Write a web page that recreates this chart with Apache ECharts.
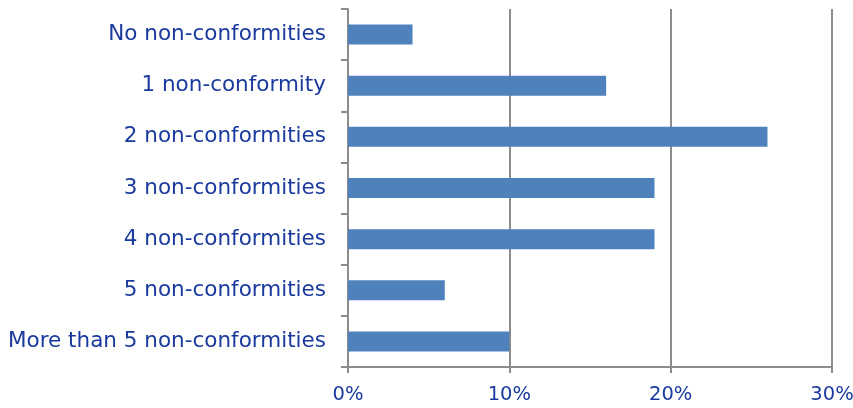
<!DOCTYPE html>
<html><head><meta charset="utf-8">
<script src="https://cdn.jsdelivr.net/npm/echarts@6/dist/echarts.min.js"></script>
<style>html,body{margin:0;padding:0;background:#fff}#c{width:853px;height:408px}</style>
</head><body><div id="c"></div>
<script>
const categories = ["No non-conformities","1 non-conformity","2 non-conformities","3 non-conformities","4 non-conformities","5 non-conformities","More than 5 non-conformities"];
const values = [4, 16, 26, 19, 19, 6, 10];
const xTicks = [0, 10, 20, 30];
const chart = echarts.init(document.getElementById('c'));
const txt = '#1a3a9e', ax = '#8c8c8c';
chart.setOption({
  animation:false,
  grid:{left:348,right:21,top:9,bottom:41,containLabel:false,outerBoundsMode:'none'},
  xAxis:{type:'value',min:0,max:30,interval:10,
    axisLine:{show:true,lineStyle:{color:ax,width:2}},
    axisTick:{show:true,length:6,lineStyle:{color:ax,width:2}},
    splitLine:{show:true,lineStyle:{color:ax,width:2}},
    axisLabel:{formatter:v=>v+'%',color:txt,fontSize:19.5,fontFamily:'DejaVu Sans',margin:18}},
  yAxis:{type:'category',data:categories,inverse:true,
    axisLine:{show:true,lineStyle:{color:ax,width:2}},
    axisTick:{show:true,length:7,lineStyle:{color:ax,width:2}},
    axisLabel:{color:txt,fontSize:21.5,fontFamily:'DejaVu Sans',margin:22}},
  series:[{type:'bar',data:values,barWidth:20,itemStyle:{color:'#4f81bd'}}]
});
</script></body></html>
